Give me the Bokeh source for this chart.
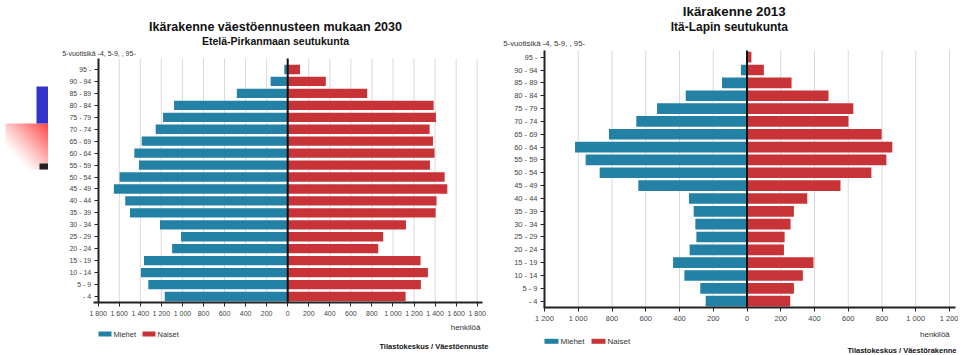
import numpy as np
from bokeh.plotting import figure
from bokeh.models import Range1d, FixedTicker, Label, ColumnDataSource
from bokeh.layouts import row
from bokeh.embed import file_html
from bokeh.resources import INLINE

# ---------------- data (bottom to top) ----------------
age_groups = ["- 4", "5 - 9", "10 - 14", "15 - 19", "20 - 24", "25 - 29", "30 - 34",
              "35 - 39", "40 - 44", "45 - 49", "50 - 54", "55 - 59", "60 - 64", "65 - 69",
              "70 - 74", "75 - 79", "80 - 84", "85 - 89", "90 - 94", "95 -"]

# Etelä-Pirkanmaan seutukunta, väestöennuste 2030
ep_men = [1168, 1324, 1394, 1365, 1098, 1013, 1213, 1498, 1543, 1651,
          1597, 1413, 1457, 1387, 1254, 1184, 1079, 483, 162, 32]
ep_women = [1120, 1265, 1332, 1262, 860, 907, 1123, 1405, 1414, 1516,
            1491, 1351, 1395, 1380, 1348, 1408, 1386, 755, 362, 117]

# Itä-Lapin seutukunta, 2013
il_men = [245, 277, 371, 438, 340, 300, 306, 316, 344, 644,
          873, 956, 1019, 818, 656, 533, 363, 148, 36, 0]
il_women = [256, 278, 331, 394, 219, 223, 258, 278, 357, 554,
            737, 826, 861, 798, 601, 630, 483, 264, 100, 26]

ep_ticks = list(range(-1800, 1801, 200))
il_ticks = list(range(-1200, 1201, 200))

series_labels = ["Miehet", "Naiset"]
MEN_COLOR = "#2281a4"
WOMEN_COLOR = "#c83337"
FONT = "Liberation Sans"
TXT = "#333333"
PAGE_H = 355


def fmt(v):
    return f"{abs(v):,}".replace(",", " ")


def pyramid(cfg, men, women, ticks):
    """One population pyramid; the frame fills the whole canvas, axes are pinned
    with fixed_location so titles and legend can live inside the same canvas."""
    fl, width = cfg["left"], cfg["width"]
    x0, sx = cfg["zero_px"], cfg["px_per_unit"]      # page x of value 0, px per person
    y0, sy = cfg["row0_px"], cfg["row_px"]            # page y of row 0, px per row
    to_x = lambda px: (px - x0) / sx
    to_y = lambda py: (y0 - py) / sy

    p = figure(width=width, height=PAGE_H,
               x_range=Range1d(to_x(fl), to_x(fl + width)),
               y_range=Range1d(to_y(PAGE_H), to_y(0)),
               toolbar_location=None, output_backend="svg",
               min_border_left=0, min_border_right=0, min_border_top=0, min_border_bottom=0)
    p.title.visible = False
    p.outline_line_color = None
    p.background_fill_color = "white"
    p.border_fill_color = "white"
    p.grid.visible = False

    y_lo, y_hi = to_y(cfg["axis_bottom"]), to_y(cfg["axis_top"])
    idx = list(range(len(age_groups)))

    # grid lines at the ticks, only over the plotting area
    p.segment(x0=ticks, x1=ticks, y0=[y_lo] * len(ticks), y1=[y_hi] * len(ticks),
              line_color="#d9d9d9", line_width=1)

    src = ColumnDataSource(dict(y=idx, m=[-v for v in men], w=women, zero=[0] * len(idx)))
    p.hbar(y="y", left="m", right="zero", height=cfg["bar_h"], source=src,
           fill_color=MEN_COLOR, line_color=None)
    p.hbar(y="y", left="zero", right="w", height=cfg["bar_h"], source=src,
           fill_color=WOMEN_COLOR, line_color=None)
    # centre line
    p.segment(x0=[0], x1=[0], y0=[y_lo], y1=[y_hi], line_color="#111111", line_width=2)

    # axes pinned at the edge of the plotting area
    xa, ya = p.xaxis[0], p.yaxis[0]
    xa.fixed_location = y_lo
    xa.bounds = (to_x(cfg["xaxis_from"]), to_x(cfg["xaxis_to"]))
    ya.fixed_location = ticks[0]
    ya.bounds = (y_lo, y_hi)
    xa.ticker = FixedTicker(ticks=ticks)
    xa.major_label_overrides = {t: fmt(t) for t in ticks}
    ya.ticker = FixedTicker(ticks=idx)
    ya.major_label_overrides = {i: age_groups[i] for i in idx}
    for ax in (xa, ya):
        ax.axis_line_color = "#222222"
        ax.axis_line_width = 2
        ax.major_tick_line_color = "#222222"
        ax.major_tick_in = 0
        ax.major_tick_out = 4
        ax.minor_tick_line_color = None
        ax.major_label_text_font = FONT
        ax.major_label_text_font_size = cfg["tick_size"]
        ax.major_label_text_color = "#444444"
        ax.major_label_standoff = 3

    def text(px, py, t, size, bold=False, align="left", baseline="alphabetic"):
        p.add_layout(Label(x=px - fl, y=PAGE_H - py, x_units="screen", y_units="screen",
                           text=t, text_font=FONT, text_font_size=size,
                           text_font_style="bold" if bold else "normal",
                           text_color="#111111" if bold else TXT,
                           text_align=align, text_baseline=baseline))

    for (px, py, t, size, bold, align) in cfg["texts"]:
        text(px, py, t, size, bold, align)

    # legend (key swatches + labels)
    lg = cfg["legend"]
    for (sw_l, sw_r, tx), lab, col in zip(lg["items"], series_labels, [MEN_COLOR, WOMEN_COLOR]):
        p.quad(left=[to_x(sw_l)], right=[to_x(sw_r)],
               top=[to_y(lg["y"] - lg["h"] / 2)], bottom=[to_y(lg["y"] + lg["h"] / 2)],
               fill_color=col, line_color=None)
        text(tx, lg["y"] + 0.5, lab, lg["size"], baseline="middle")
    return p


left_cfg = dict(
    left=48, width=442, zero_px=287.2, px_per_unit=379 / 3600,
    row0_px=296, row_px=227 / 19, axis_top=58, axis_bottom=302,
    xaxis_from=93, xaxis_to=482, bar_h=0.78, tick_size="7px",
    texts=[
        (275, 26, "Ikärakenne väestöennusteen mukaan 2030", "12.5px", True, "center"),
        (275, 40.7, "Etelä-Pirkanmaan seutukunta", "10.5px", True, "center"),
        (61.7, 53, "5-vuotisikä -4, 5-9, , 95-", "7px", False, "left"),
        (480, 327, "henkilöä", "8px", False, "right"),
        (488, 345.5, "Tilastokeskus / Väestöennuste", "7.5px", True, "right"),
    ],
    legend=dict(y=333.5, h=5, size="7.5px", items=[(98, 111, 113), (142, 155, 157)]),
)

right_cfg = dict(
    left=490, width=468, zero_px=746.5, px_per_unit=405 / 2400,
    row0_px=300.7, row_px=244 / 19, axis_top=50, axis_bottom=306.7,
    xaxis_from=543, xaxis_to=955, bar_h=0.83, tick_size="7.5px",
    texts=[
        (733.7, 11, "Ikärakenne 2013", "13.3px", True, "center"),
        (728.8, 26.7, "Itä-Lapin seutukunta", "12px", True, "center"),
        (502.7, 43, "5-vuotisikä -4, 5-9, , 95-", "7.8px", False, "left"),
        (949.3, 333.5, "henkilöä", "8px", False, "right"),
        (956, 350.3, "Tilastokeskus / Väestörakenne", "7.5px", True, "right"),
    ],
    legend=dict(y=340.8, h=5, size="8px", items=[(544, 558, 560), (591, 605, 607)]),
)

p1 = pyramid(left_cfg, ep_men, ep_women, ep_ticks)
p2 = pyramid(right_cfg, il_men, il_women, il_ticks)

# ---------------- decoration strip at far left: page x 0..48 ----------------
deco = figure(width=48, height=PAGE_H, x_range=Range1d(0, 48), y_range=Range1d(PAGE_H, 0),
              toolbar_location=None, output_backend="svg", x_axis_type=None, y_axis_type=None,
              min_border_left=0, min_border_right=0, min_border_top=0, min_border_bottom=0)
deco.title.visible = False
deco.grid.visible = False
deco.outline_line_color = None
H, W = 46, 43
img = np.empty((H, W), dtype=np.uint32)
view = img.view(dtype=np.uint8).reshape((H, W, 4))
for i in range(H):
    for j in range(W):
        u = (W - 1 - j) / (W - 1)
        v = i / (H - 1)
        a = max(0.0, 1 - (u + v) / 1.5) ** 1.1
        view[i, j, 0] = 255
        view[i, j, 1] = int(255 - (255 - 70) * a)
        view[i, j, 2] = int(255 - (255 - 70) * a)
        view[i, j, 3] = 255
deco.image_rgba(image=[img], x=5, y=123, dw=43, dh=46)
deco.quad(left=[36], right=[48], top=[86], bottom=[123], fill_color="#3333cc", line_color=None)
deco.quad(left=[39], right=[48], top=[163], bottom=[169], fill_color="#222222", line_color=None)

layout = row(deco, p1, p2, spacing=0)
open("out.html", "w").write(file_html(layout, INLINE))
